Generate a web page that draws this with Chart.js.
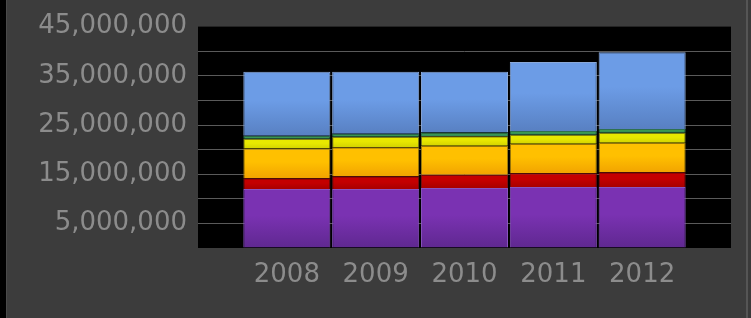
<!DOCTYPE html>
<html>
<head>
<meta charset="utf-8">
<script src="https://cdn.jsdelivr.net/npm/chart.js@4/dist/chart.umd.min.js"></script>
<style>
  html, body { margin: 0; padding: 0; }
  body {
    width: 751px; height: 318px; overflow: hidden;
    background: linear-gradient(to right, #000 0 6px, #4a4a4a 6px 7px, #3c3c3c 7px 746px, #555 746px 748px, #3a3a3a 748px);
  }
  #wrap { position: relative; width: 751px; height: 318px; }
</style>
</head>
<body>
<div id="wrap"><canvas id="stackChart"></canvas></div>
<script>
const years = ["2008", "2009", "2010", "2011", "2012"];
// segment sizes, bottom to top
const purpleVals = [12000000, 12000000, 12200000, 12400000, 12400000];
const redVals = [2200000, 2600000, 2700000, 2800000, 3000000];
const orangeVals = [6000000, 5900000, 5900000, 6000000, 6000000];
const yellowVals = [2000000, 2100000, 1900000, 1800000, 2000000];
const greenVals = [600000, 600000, 800000, 800000, 800000];
const blueVals = [13000000, 12600000, 12300000, 14000000, 15600000];
const yTicks = [5000000, 15000000, 25000000, 35000000, 45000000];

// pad one empty slot on each side so bars sit like the original
const labels = [""].concat(years, [""]);
function pad(arr) { return [null].concat(arr, [null]); }

const allSeries = [purpleVals, redVals, orangeVals, yellowVals, greenVals, blueVals];

function segGradient(seriesIdx, top, bottom) {
    return function(ctx) {
        const chart = ctx.chart;
        if (!chart.chartArea || ctx.dataIndex === undefined) return top;
        const i = ctx.dataIndex - 1;
        if (i < 0 || i >= years.length) return top;
        let base = 0;
        for (let s = 0; s < seriesIdx; s++) base += allSeries[s][i];
        const y = chart.scales.y;
        const y0 = y.getPixelForValue(base + allSeries[seriesIdx][i]);
        const y1 = y.getPixelForValue(base);
        const g = chart.ctx.createLinearGradient(0, y0, 0, y1);
        g.addColorStop(0, top);
        g.addColorStop(0.45, top);
        g.addColorStop(1, bottom);
        return g;
    };
}

const plotBg = {
    id: "plotBg",
    beforeDraw(chart) {
        const a = chart.chartArea;
        chart.ctx.save();
        chart.ctx.fillStyle = "#000";
        chart.ctx.fillRect(a.left, a.top, a.right - a.left, a.bottom - a.top);
        chart.ctx.restore();
    }
};

const ctx = document.getElementById("stackChart").getContext("2d");
let stackChart = new Chart(ctx, {
    type: "bar",
    data: {
        labels: labels,
        datasets: [
            { label: "purple", data: pad(purpleVals), backgroundColor: segGradient(0, "#7a32b2", "#5f2890"), borderColor: "#8a55c0" },
            { label: "red", data: pad(redVals), backgroundColor: segGradient(1, "#c40000", "#a80000"), borderColor: "#7a1010" },
            { label: "orange", data: pad(orangeVals), backgroundColor: segGradient(2, "#ffc000", "#f2a400"), borderColor: "#9a7a10" },
            { label: "yellow", data: pad(yellowVals), backgroundColor: segGradient(3, "#e8e800", "#d4d400"), borderColor: "#7a7a20" },
            { label: "green", data: pad(greenVals), backgroundColor: segGradient(4, "#3c9a50", "#2e8060"), borderColor: "#2e7050" },
            { label: "blue", data: pad(blueVals), backgroundColor: segGradient(5, "#6c9ce6", "#5880c2"), borderColor: "#8aa8d8" }
        ]
    },
    options: {
        responsive: true,
        maintainAspectRatio: false,
        animation: false,
        layout: { padding: { top: 24, right: 20, left: 0, bottom: 0 } },
        datasets: {
            bar: { borderWidth: 1, barPercentage: 0.98, categoryPercentage: 1 }
        },
        plugins: {
            legend: { display: false },
            tooltip: { enabled: false }
        },
        scales: {
            x: {
                stacked: true,
                offset: false,
                grid: { display: false, drawTicks: false },
                border: { display: false },
                ticks: {
                    color: "#8c8c8c",
                    font: { family: "DejaVu Sans", size: 26 },
                    padding: 12,
                    maxRotation: 0,
                    autoSkip: false
                },
                afterFit(scale) { scale.height = 318 - 248; }
            },
            y: {
                stacked: true,
                min: 0,
                max: 45000000,
                border: { display: false },
                grid: {
                    drawTicks: false,
                    color: (c) => (c.tick && (c.tick.value === 0 || c.tick.value === 45000000)) ? "rgba(0,0,0,0)" : "#5a5a5a"
                },
                ticks: {
                    stepSize: 5000000,
                    autoSkip: false,
                    color: "#8c8c8c",
                    font: { family: "DejaVu Sans", size: 26 },
                    padding: 11,
                    callback: (v) => yTicks.includes(v) ? v.toLocaleString("en-US") : ""
                },
                afterFit(scale) { scale.width = 198; }
            }
        }
    },
    plugins: [plotBg]
});
</script>
</body>
</html>
